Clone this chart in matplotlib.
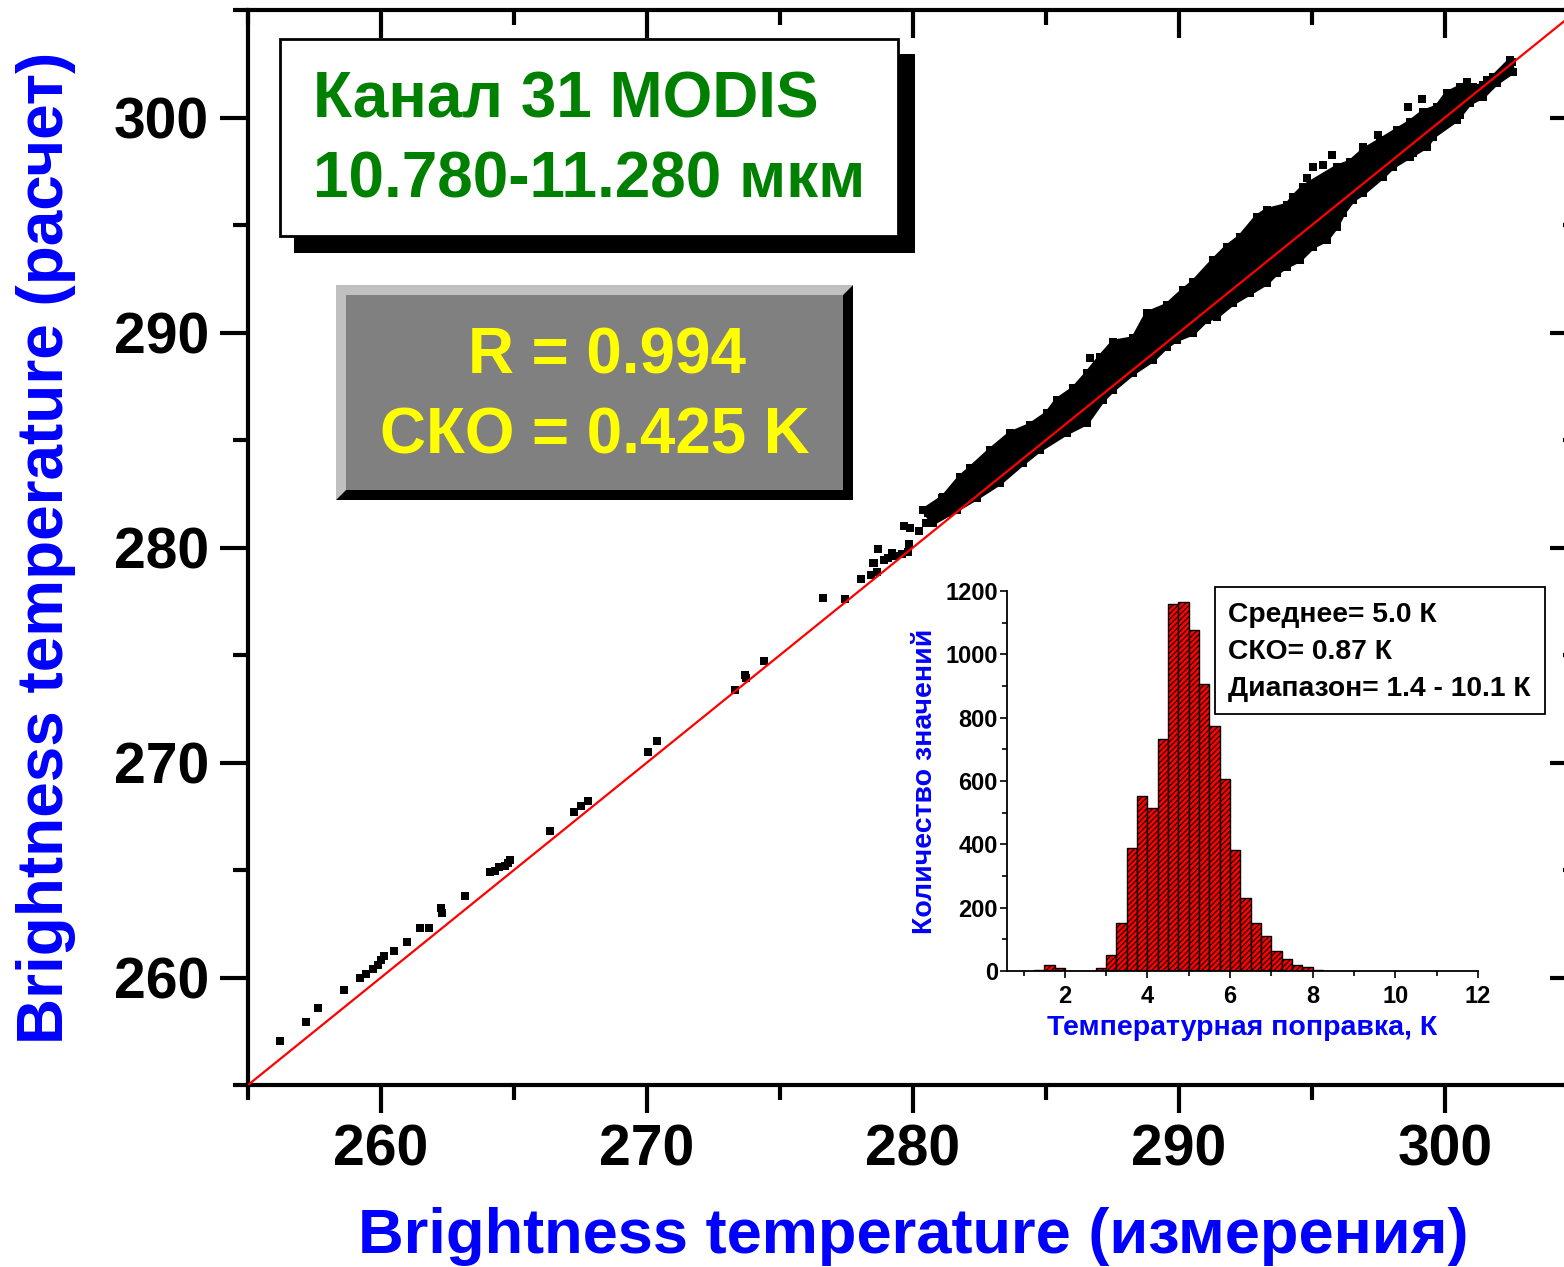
import numpy as np
import matplotlib
matplotlib.use('Agg')
import matplotlib.pyplot as plt
from matplotlib.patches import Rectangle, Polygon
from matplotlib.ticker import MultipleLocator

plt.rcParams['font.family'] = ['Liberation Sans', 'DejaVu Sans']
plt.rcParams['font.weight'] = 'bold'
plt.rcParams['hatch.color'] = 'black'
plt.rcParams['hatch.linewidth'] = 0.8

# ---------------- data ----------------
# dense cloud outline (upper and lower edges of the black band)
band_upper_x = [280.39, 281.14, 281.77, 282.14, 282.89, 283.65, 284.40, 285.03, 285.40, 286.03,
                286.53, 287.03, 287.53, 288.28, 288.79, 289.54, 290.16, 290.54, 291.29, 291.79,
                292.29, 292.92, 293.30, 294.05, 294.30, 294.67, 295.93, 296.43, 296.93, 297.56,
                298.18, 298.68, 299.18, 299.69, 300.06, 300.56, 301.06, 301.44, 301.82, 302.44]
band_upper_y = [281.74, 282.36, 283.29, 283.68, 284.53, 285.31, 285.70, 286.24, 286.86, 287.40,
                288.10, 288.87, 289.57, 289.73, 290.89, 291.28, 291.98, 292.36, 293.37, 293.99,
                294.46, 295.39, 295.70, 295.93, 296.32, 296.78, 297.71, 297.94, 298.49, 298.95,
                299.42, 299.80, 300.27, 300.50, 301.13, 301.43, 301.43, 301.51, 301.90, 302.67]
band_lower_x = [280.76, 281.64, 282.39, 283.27, 284.15, 284.77, 285.78, 286.53, 287.15, 287.53,
                288.28, 289.03, 289.54, 289.91, 290.54, 291.04, 291.42, 292.04, 292.67, 293.30,
                293.67, 294.05, 294.55, 295.05, 295.55, 295.93, 296.18, 296.55, 296.93, 297.68,
                298.06, 298.68, 299.31, 299.56, 300.44, 300.94, 301.44, 301.94, 302.57]
band_lower_y = [281.13, 281.74, 282.29, 282.99, 283.92, 284.53, 285.31, 285.78, 286.86, 287.33,
                288.10, 288.72, 289.34, 289.65, 289.96, 290.58, 290.73, 291.36, 291.82, 292.29,
                292.75, 293.06, 293.37, 293.99, 294.30, 294.92, 295.54, 296.16, 296.47, 297.25,
                297.71, 298.18, 298.64, 299.11, 299.88, 300.66, 300.97, 301.59, 302.13]

# individual (sparse) points
pts_x = [256.21, 257.19, 257.64, 258.62, 259.20, 259.45, 259.69, 259.88, 260.01, 260.11,
         260.48, 260.98, 261.46, 261.81, 262.26, 262.31, 263.17, 264.11, 264.28, 264.45,
         264.65, 264.78, 264.85, 266.36, 267.27, 267.52, 267.77, 270.03, 270.36, 273.30,
         273.69, 273.74, 274.39, 276.60, 277.45, 278.03, 278.43, 278.53, 278.63, 278.67,
         278.90, 279.07, 279.27, 279.57, 279.67, 279.87, 279.84, 279.81, 280.24, 280.50,
         280.58, 280.83, 278.48, 279.20, 281.08, 281.27, 286.65, 295.05, 295.74, 295.43,
         294.80, 297.49, 296.91, 298.62, 299.12, 300.81, 302.51, 301.57, 301.82, 298.81,
         300.56, 299.44]
pts_y = [257.03, 257.94, 258.56, 259.42, 259.99, 260.15, 260.38, 260.56, 260.82, 261.00,
         261.23, 261.63, 262.32, 262.32, 263.23, 263.00, 263.80, 264.89, 264.96, 265.14,
         265.19, 265.32, 265.46, 266.81, 267.72, 268.00, 268.22, 270.50, 271.02, 273.35,
         274.08, 273.91, 274.71, 277.67, 277.61, 278.52, 278.74, 279.27, 278.86, 279.93,
         279.41, 279.50, 279.62, 279.68, 281.01, 280.91, 280.16, 279.81, 280.75, 281.14,
         281.59, 281.41, 279.26, 279.73, 282.29, 281.59, 288.80, 297.71, 298.26, 297.79,
         297.17, 299.19, 298.64, 300.50, 300.85, 301.67, 302.60, 301.74, 301.74, 298.33,
         300.12, 299.19]

fit_x = [255, 305]
fit_y = [255, 305]

# histogram of temperature corrections (bin left edges, width 0.25 K)
hist_left = [1.25, 1.50, 1.75, 2.00, 2.25, 2.50, 2.75, 3.00, 3.25, 3.50, 3.75, 4.00, 4.25, 4.50,
             4.75, 5.00, 5.25, 5.50, 5.75, 6.00, 6.25, 6.50, 6.75, 7.00, 7.25, 7.50, 7.75, 8.00]
hist_counts = [3, 19, 8, 0, 0, 0, 8, 51, 152, 387, 553, 514, 733, 1160,
               1165, 1078, 907, 773, 606, 383, 229, 151, 111, 62, 39, 20, 13, 3]
hist_width = 0.25

main_xticks = [260, 270, 280, 290, 300]
main_yticks = [260, 270, 280, 290, 300]
inset_xticks = [2, 4, 6, 8, 10, 12]
inset_yticks = [0, 200, 400, 600, 800, 1000, 1200]

title_lines = ["Канал 31 MODIS", "10.780-11.280 мкм"]
stats_lines = ["R = 0.994", "СКО = 0.425 K"]
inset_stats = ["Среднее= 5.0 К", "СКО= 0.87 К", "Диапазон= 1.4 - 10.1 К"]

# ---------------- figure ----------------
W, H = 1564, 1267
fig = plt.figure(figsize=(W / 100, H / 100), dpi=100)

def rect(l, t, r, b):
    return [l / W, 1 - b / H, (r - l) / W, (b - t) / H]

ax = fig.add_axes(rect(248, 10, 1578, 1085))
ax.set_xlim(255, 305)
ax.set_ylim(255, 305)

poly_x = list(band_upper_x) + list(band_lower_x[::-1])
poly_y = list(band_upper_y) + list(band_lower_y[::-1])
ax.fill(poly_x, poly_y, color='black', lw=3, zorder=2)
ax.scatter(band_upper_x, band_upper_y, marker='s', s=30, color='black', linewidths=0, zorder=2)
ax.scatter(band_lower_x, band_lower_y, marker='s', s=30, color='black', linewidths=0, zorder=2)
ax.scatter(pts_x, pts_y, marker='s', s=36, color='black', linewidths=0, zorder=2)
ax.plot(fit_x, fit_y, color='red', lw=1.6, zorder=3)

for s in ax.spines.values():
    s.set_linewidth(3)
ax.set_xticks(main_xticks)
ax.set_yticks(main_yticks)
ax.xaxis.set_minor_locator(MultipleLocator(5))
ax.yaxis.set_minor_locator(MultipleLocator(5))
ax.tick_params(which='major', direction='out', length=20, width=3, labelsize=41, pad=8)
ax.tick_params(which='minor', direction='out', length=11, width=3)
for lab in ax.get_xticklabels() + ax.get_yticklabels():
    lab.set_fontweight('bold')

secx = ax.secondary_xaxis('top')
secx.set_xticks(main_xticks)
secx.xaxis.set_minor_locator(MultipleLocator(5))
secx.tick_params(which='major', direction='in', length=20, width=3, labeltop=False)
secx.tick_params(which='minor', direction='in', length=11, width=3)
secy = ax.secondary_yaxis('right')
secy.set_yticks(main_yticks)
secy.yaxis.set_minor_locator(MultipleLocator(5))
secy.tick_params(which='major', direction='in', length=20, width=3, labelright=False)
secy.tick_params(which='minor', direction='in', length=11, width=3)

ax.set_xlabel("Brightness temperature (измерения)", color='blue', fontsize=45.5,
              fontweight='bold', labelpad=21)
ax.set_ylabel("Brightness temperature (расчет)", color='blue', fontsize=46,
              fontweight='bold', labelpad=27)

# ---------------- inset histogram ----------------
ax2 = fig.add_axes(rect(1007, 591, 1478, 971))
ax2.patch.set_alpha(0)
ax2.bar(hist_left, hist_counts, width=hist_width, align='edge', color='red',
        edgecolor='black', linewidth=1, hatch='//////', zorder=2)
ax2.set_xlim(0.6, 12)
ax2.set_ylim(0, 1200)
ax2.spines['top'].set_visible(False)
ax2.spines['right'].set_visible(False)
for s in ('left', 'bottom'):
    ax2.spines[s].set_linewidth(1.3)
ax2.set_xticks(inset_xticks)
ax2.set_yticks(inset_yticks)
ax2.xaxis.set_minor_locator(MultipleLocator(1))
ax2.yaxis.set_minor_locator(MultipleLocator(100))
ax2.tick_params(which='major', direction='out', length=5, width=1.2, labelsize=17)
ax2.tick_params(axis='x', which='major', pad=5)
ax2.tick_params(axis='y', which='major', pad=1.5)
ax2.tick_params(which='minor', direction='out', length=3.5, width=1.2)
for lab in ax2.get_xticklabels() + ax2.get_yticklabels():
    lab.set_fontweight('bold')
ax2.set_xlabel("Температурная поправка, К", color='blue', fontsize=20.5,
               fontweight='bold', labelpad=5)
ax2.set_ylabel("Количество значений", color='blue', fontsize=20.5,
               fontweight='bold', labelpad=5)

# ---------------- overlay (text boxes) ----------------
ov = fig.add_axes([0, 0, 1, 1])
ov.set_xlim(0, W)
ov.set_ylim(H, 0)
ov.axis('off')

# title box with shadow
ov.add_patch(Rectangle((294, 54), 915 - 294, 253 - 54, facecolor='black', edgecolor='none'))
ov.add_patch(Rectangle((280, 39), 898 - 280, 236 - 39, facecolor='white',
                       edgecolor='black', lw=2))
ov.text(313, 118, title_lines[0], color='#008000', fontsize=46, fontweight='bold',
        ha='left', va='baseline')
ov.text(313, 198, title_lines[1], color='#008000', fontsize=46, fontweight='bold',
        ha='left', va='baseline')

# bevelled statistics box
L, T, R, B, d = 336, 285, 853, 500, 10
ov.add_patch(Polygon([(L, T), (R, T), (R - d, T + d), (L + d, T + d), (L + d, B - d), (L, B)],
                     closed=True, facecolor='#c0c0c0', edgecolor='none'))
ov.add_patch(Polygon([(R, T), (R, B), (L, B), (L + d, B - d), (R - d, B - d), (R - d, T + d)],
                     closed=True, facecolor='black', edgecolor='none'))
ov.add_patch(Rectangle((L + d, T + d), R - L - 2 * d, B - T - 2 * d,
                       facecolor='#808080', edgecolor='none'))
ov.text(607, 374, stats_lines[0], color='#ffff00', fontsize=45.8, fontweight='bold',
        ha='center', va='baseline')
ov.text(595, 453, stats_lines[1], color='#ffff00', fontsize=45.8, fontweight='bold',
        ha='center', va='baseline')

# inset statistics box
ov.add_patch(Rectangle((1215, 587), 1545 - 1215, 714 - 587, facecolor='white',
                       edgecolor='black', lw=1.3))
for i, line in enumerate(inset_stats):
    ov.text(1228, 622 + 37 * i, line, color='black', fontsize=20.3, fontweight='bold',
            ha='left', va='baseline')

fig.savefig('out.png', dpi=100)
